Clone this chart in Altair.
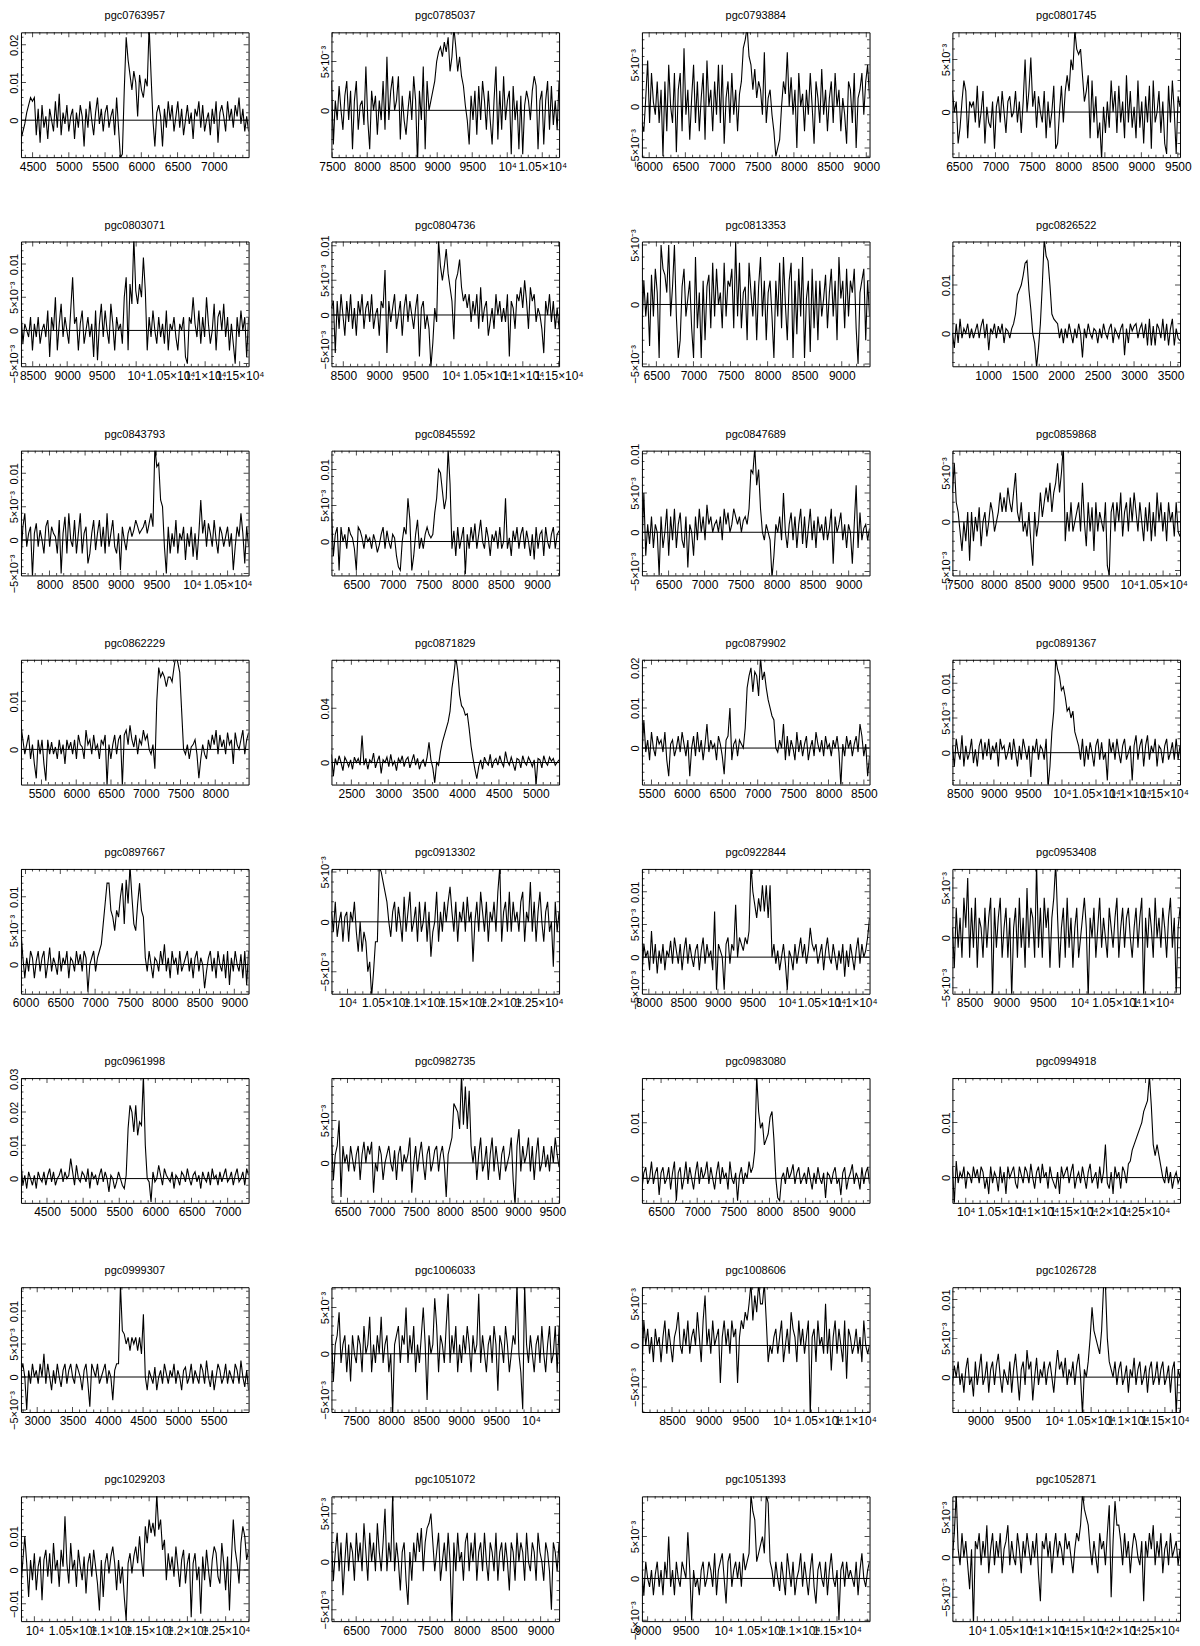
import numpy as np
import pandas as pd
import altair as alt

NAMES = ["pgc0763957", "pgc0785037", "pgc0793884", "pgc0801745",
         "pgc0803071", "pgc0804736", "pgc0813353", "pgc0826522",
         "pgc0843793", "pgc0845592", "pgc0847689", "pgc0859868",
         "pgc0862229", "pgc0871829", "pgc0879902", "pgc0891367",
         "pgc0897667", "pgc0913302", "pgc0922844", "pgc0953408",
         "pgc0961998", "pgc0982735", "pgc0983080", "pgc0994918",
         "pgc0999307", "pgc1006033", "pgc1008606", "pgc1026728",
         "pgc1029203", "pgc1051072", "pgc1051393", "pgc1052871"]

# velocity range of each panel (km/s)
V_LO = [4340, 7490, 5900, 6410, 8330, 8335, 6305, 510,
        7600, 6155, 6130, 7390, 5205, 2230, 5365, 8390,
        5935, 9790, 7900, 8265, 4140, 6265, 6235, 9815,
        2770, 7150, 8090, 8620, 9825, 6165, 8925, 9650]
V_HI = [7480, 10740, 9045, 9530, 11630, 11505, 9375, 3630,
        10795, 9305, 9290, 10750, 8480, 5315, 8580, 11735,
        9205, 12765, 11195, 11370, 7290, 9600, 9385, 12980,
        5995, 10400, 11195, 11705, 12800, 9250, 11930, 12850]

# flux range of each panel (mJy)
F_LO = [-9.8, -4.8, -6.1, -4.3, -5.4, -7.4, -5.2, -6.8,
        -5.3, -4.7, -5.5, -5.5, -7.3, -16.3, -9.1, -4.6,
        -4.3, -7.2, -5.6, -5.6, -7.3, -4.7, -4.4, -4.6,
        -5.3, -6.3, -8.0, -4.5, -15.2, -6.2, -5.1, -8.0]
F_HI = [23.3, 8.0, 8.9, 7.6, 13.4, 10.6, 5.3, 19.0,
        13.4, 12.6, 10.4, 7.3, 18.6, 75.9, 22.0, 13.4,
        14.1, 5.3, 13.5, 6.9, 30.2, 10.0, 18.0, 18.1,
        13.6, 7.2, 7.0, 11.6, 21.9, 6.8, 9.8, 7.6]

# labelled flux ticks (Jy)
Y_LABELS = [[0, 0.01, 0.02], [0, 0.005], [-0.005, 0, 0.005], [0, 0.005],
            [-0.005, 0, 0.005, 0.01], [-0.005, 0, 0.005, 0.01], [-0.005, 0, 0.005], [0, 0.01],
            [-0.005, 0, 0.005, 0.01], [0, 0.005, 0.01], [-0.005, 0, 0.005, 0.01], [-0.005, 0, 0.005],
            [0, 0.01], [0, 0.04], [0, 0.01, 0.02], [0, 0.005, 0.01],
            [0, 0.005, 0.01], [-0.005, 0, 0.005], [-0.005, 0, 0.005, 0.01], [-0.005, 0, 0.005],
            [0, 0.01, 0.02, 0.03], [0, 0.005], [0, 0.01], [0, 0.01],
            [-0.005, 0, 0.005, 0.01], [-0.005, 0, 0.005], [-0.005, 0, 0.005], [0, 0.005, 0.01],
            [-0.01, 0, 0.01], [-0.005, 0, 0.005], [-0.005, 0, 0.005], [-0.005, 0, 0.005]]

# spectra (mJy), channels evenly spread over each panel's velocity range
F01 = [-5, -3, -1, 2, 4, 6, 5, 6, -4, 3,
       -6, 4, -2, 1, -5, 3, 0, -3, 5, -2,
       7, -4, 2, -1, 4, -3, 1, 3, -5, 2,
       -2, 4, 1, -7, 3, -2, 5, 0, -4, 2,
       6, -1, 3, -3, 2, 4, -2, 1, 3, -4,
       6, -2, -10, -9, 8, 22, 16, 12, 8, 13,
       10, 1, 12, 8, 6, 11, 9, 25, 12, 0,
       -7, 2, 4, 1, -7, 3, -2, 5, 0, 4,
       -3, 1, 5, -2, 3, -4, 0, 4, -1, 2,
       -5, 3, 1, 5, -2, 4, -3, 0, 2, -4,
       3, -1, 5, -6, 2, 4, 1, -3, 5, 0,
       3, -2, 4, 1, 6, -1, 3, -3, 1, -3]
F02 = [3, -3.5, 1, -1, 2.5, 0, -2, 1.5, 3, -1,
       2, -4, 1, 3, -2, 0.5, 1, -1.5, 4.5, -1,
       -4, 2, 0, 1.5, -2.5, 1, -1, 3, -2, 5.5,
       -1, 2, 3.5, 0, 1, 3.5, -3, 1.5, -1, -2.5,
       0, 2, -1, 3.5, 1, -5.5, 2, -1, 4.5, -4,
       3, 0, 1, 2, 3, 5, 6, 6.5, 5.5, 7,
       6, 7.5, 4, 5.5, 8.5, 6.5, 4, 5.5, 3.5, 2.5,
       0.5, -1, -3.5, 1.5, -1, 2, -2.5, 2.5, -1, 3,
       1, -2, 2, -1, -3.5, 1, 4.5, -3, 2, -2,
       3.5, -1, 1, 2, -4.5, 2.5, -1, 1, -4, 1.5,
       -4.5, 0.5, 2, 1, -1, 2, 3.5, 2.5, -4, 1,
       2, -3.5, 1, 3, -2, 2.5, -1.5, 1, -2, 3]
F03 = [-2, -3, 1, 5.5, -2, 4, 0.5, -1, 3, -2,
       2, -6, 3, -3, 5, 0, -2, 4, -5.5, 2,
       4, -3, 7, -1, 2, -4, 1, 5, -2, 3,
       -3, 1, 4, -4, 5.5, 0, 2, -3, 3, -1,
       5, -2, 5, -4.5, 1, 3, -2, 4, -1, 2,
       -3, 1.5, 3, 7, 8, 9.5, 6, 5, 2, 4.5,
       1, 3, 2, -1, 6.5, -2, 1, 2, -1, -3,
       -6, -5, -4, 0, 3, 1.5, 6.5, 0, 3.5, -1,
       2, -5, 4, 0, 1.5, -3, 2, -1, 4, 0,
       -4.5, 3, 1, -2, 4.5, -1, 2, -3, 1, 3,
       -2, 4, 0, 2, -3, 1, -1, -4.5, 3, 2,
       -2, 4, -5, 1, 2, 4, -1, 3, 5, 1]
F04 = [2, 0, 1, -3, -1.5, 1, 3, 2, -2.5, 1,
       0.5, 1, -1, 2.5, -1.5, 0, 2, -3, 0.5, -1,
       -1.5, 1, -3.5, 0.5, 1.5, -1, 2, 0, -2, 1,
       1.5, -0.5, 0, 2, -1, 1, -2, 1, 5, 0,
       2, 5.2, 0.5, 2, -1.5, 1.5, 0, -1, 2, -2.5,
       1, -1.5, 0, 2.5, -3.5, -3, 0, 2.5, -1, 2,
       3.5, 2, 5, 4, 7.8, 6, 5.5, 6, 3.5, 1,
       2, 3.5, -2.5, 3, -1, 1.5, -2.5, -1, -4.5, 0.5,
       -2, 1, -1.5, 3, 0, 2, -2, 2.5, -1, 1,
       -2.5, 3.5, -1, 2, -1.5, 0.5, -2.5, 3, -1.5, 1,
       -3, 1.5, -1, 2.5, -3.5, 3, -1, 0, 2, -2,
       1, -3, -4, 2.5, -1, 3, 0, -4, 1.5, 0.5]
F05 = [3, -2, 1, 0, -1, 2, -3, 1, -1, 2,
       -2, 0, 1, -1, 3, -4, 2, 0, 5, -3,
       1, 4, -1, 2, 0, -2, 3, 8, 1, 2,
       -3, 1, 3, -2, 0, 2, -1, 1, -4, 3,
       -4.5, 1, 4, -1, 3, 0, -2, 4, 1, -3,
       2, 0, 1, -2, 5, 8, -3, 7, 4, 14,
       6, 4, 7, 5, 11, 6, -3, 2, -1, 3,
       0, -2, 2, -1, 1, -2, 3, -3, 1, 0,
       2, -1, -3, 1, 0, 2, -4, -5, 2, 1,
       5, 1, -1, 3, -2, 2, -1, 5, 1, -2,
       0, 4, -3, 2, 3, 0, 4, -1, 2, -3,
       1, -2, -5, 2, -1, 3, 0, 2, -4, 2]
F06 = [1, 2, -5.5, 2, -2, 3, 0, -3, 2, -1,
       3, -2, 1, -3, 2, 0, 3, -2, 1, 2,
       -1, 3, -2, 0, 1, -3, 2, 1, 6.5, -5.5,
       2, -1, 1, 3, -2, 0, 2, -3, 1, 3,
       -1, 2, 0, -2, 1, 3, -6, 1, 2, -2,
       0, -2, -7.5, -4, 1, -1, 10.8, 7, 5, 7,
       9.5, 6, 4, 2, -3.5, 5, 6, 8, 4, 2,
       3, 1, 3, -1, 2, 0, 3, -2, 4, -1,
       1, 2, -3, -1, 1, -2, 3, 0, 2, -1,
       1, -1, 3, -6, 2, 1, -2, 3, 2, 4,
       1, 5, 2, -2, 4, 2, 3, -1, 1, 0,
       -2, -5.5, 2, 0, 3, -1, 2, -2, 1, -2]
F07 = [-2, 2, -1, 1, -3.5, 2.5, -1, 3, 1, -4.5,
       5, 3, 2.5, 1, 5, -1, 1.5, 5, -1, -4.5,
       -3, 1.5, 3, -1, 0.5, 2, -2, -4.5, 4, -2,
       1, -4.5, 2, -3, 1.5, 2.5, -2, 3.5, -1, 3,
       0, 1, -2, 3.5, -1, 2, 1.5, 3, -2, 5.3,
       -1, 3.5, -2, 1, 1.5, -3, 3.5, 1, -1, 2,
       -3, 1.5, 4, -1, 2, -3, 1, 2, -1, -4.5,
       2, -1, 3.5, -2, 4, 0, -3, 2, 3.5, -4.5,
       2, -2.5, 3, -1, 4, -4.5, 0.5, 2, -4, 3,
       -2, 2, -3, 2, -1, 0.5, 2.5, -2, 1, 3,
       -1, 2, -3, 4, 0.5, 2, -2, 3, -1, 2,
       1, 3, -2, -5, 1, 2, 3, -3, 2, -1]
F08 = [0, -3, 2, -2, 3, -1, 1, 0, 2, -1,
       1, -1, 0.5, 2, -1, 1.5, 3, -1, 2, -3.5,
       1, 0, 2, -1, 1.5, 0, 2, -2, 1, 0.5,
       -1, 1, 2, 4, 8, 9, 10, 12, 14.5, 15,
       9, 5, 0, -2, -7, -3, 2, 10, 19.5, 16,
       15, 10, 4, 3, 2.5, 2, -1, 1, -2, 1,
       -1, 2, 0, -2, 1, -1, 2, 0, -5, 1,
       -1, 2, 0, -1, 1, 0.5, -2, 1, -1, 2,
       0, -1, 1, 2, -2, 1, 0, -1, 1, 2,
       -4.5, 1, -2, 2, 0.5, 1.5, 2, -1, 1, 2,
       -1, 2, -2.5, 3, -2.5, 1.5, -2.5, 2, 1, -1,
       3, -1.5, 2, -2.5, 1, 3, -2.5, 1, -1, -1.5]
F09 = [-3, 2, 4, -1, 1, 2, -5.5, 1, 2.5, -1,
       1.5, 0, -2, 2, 3, -1, 2, 1, 0.5, -2,
       3, -5, 1, 3.5, -2, 4, 0, -1, 3, -2,
       1, 4, -2, 1, 2, -3.5, -2, 1, 3, -1.5,
       1, 3, -1, 2, -2, 4, -1, 1, 3, -1,
       -2, 1, -4.5, 2, 0, -1.5, 1, 2, 0.5, 1.5,
       3, 2, 1, 1.5, 2, 3, 1, 2.5, 4, 2,
       14, 11, 11.5, 6, 5, -1, -5, 2, -2, 1,
       -1, 3, -2, 1, 0, 2, -3, 1, -1, 2,
       -2.5, 1, -3, 1, 6, 1, 3, -1, 2.5, 1,
       -1, 3, 0, -2, 2, 1, -1, 0.5, 2, -1,
       1, -4.5, -1, 2, 0.5, 4, 1, -3.5, 2, -1]
F10 = [4, -2, 1, 2, -4, 2, 0, 1, -1, 2,
       1, 0.5, -1, -4, 2, 1.5, 0.5, -1, 1, 0,
       0.5, -1, 1, 0, -1.5, -0.5, 1, 2, -1, 1.5,
       0, -1, 1, 0.5, -2, -3.5, -4, 0, 2, 1,
       6, 3, -4, -2, 1, 3, -1, 0.5, -1, 1,
       2, 1, 0.5, 1, 4, 6, 10, 9.5, 7, 4.5,
       6, 12.8, 8, -1, 1.5, -2, 2, -1, 0.5, 2,
       -4.5, 1, -1, 2, 0, 2.5, -1, 1, 3, 0,
       -1, 2, 0.5, -2, 1, 0, 1.5, -1, 2, -1,
       0, 6, -1, 0.5, -2, 1.5, 0, 2, -1, 1,
       2, -1, 1.5, 0, -2, 1, -2.5, 2, -1, 1,
       1.5, -2, 2, 0, -1, 1, 2, -1, 1, 1.5]
F11 = [-2, 5, -3, 1, -1.5, 2, -2, 1, 0, -5.5,
       2, -2, 0, 3, -3, 2, -1, 3, -2, 1,
       2.5, -1, -2, 2, -4.5, 1, 0, -3, 2, -1,
       3, 0, 2, -1, 3.5, 1, 2, 0, 1, 1.5,
       0, 2, -1, 3, 1, 2.5, 0, 1, 3, 2,
       1, 2, 0, 1.5, 2, 1, 3, 8, 7.5, 10.8,
       6, 8, 3, 0, -1, 1, 0, -1, -5.8, -3,
       1, 0, 2, -1, 5, 0, -2, 1, 2.5, -1,
       2, -2, 1, 3, -1.5, 2, -2, 0.5, 3, -1,
       1.5, -2, 2, 0, 1, -1, 2, -1, 0.5, 3,
       -4, 2, 0, 1, 2.5, -1, 1, -2, 1, 0,
       -4, 1, 6, -2, 2.5, -1, 0.5, 1, -1, 0.5]
F12 = [3, 6, 2, 1, -1, -3, 0, -2, 1, -4,
       1, -2, 0.5, -1, 1.5, -2.5, 0, 1, -1.5, 0,
       2, 1, -1, 0, 1, 3, 1, 2.5, 1, 3.5,
       2, 1, 3, 5, 1, 0, 2, -1, 0, -1.5,
       1, -2, -4.5, 1, -1.5, 0, 3, 0.5, 2, 3.5,
       2, 4, 1, 3, 4, 6, 3, 5, 7.8, -2,
       1, -1, 2, -1, 0, 1, 2, -1, 4, 0,
       -2.5, 2, -1, 1.5, -3, 2, -1, 1, 0, -1,
       2, -4.5, -5.5, 1, 2, -1, 2, 0, 3, -1.5,
       1, 2, -1, 2.5, 0, 3, 1, -1, 2, 0,
       -2, 1.5, -1, 2, -2, 1, -1.5, 3, 0, 2,
       -1, 1, -2, 2, 0, 1, -1.5, 2, -1, -1.5]
F13 = [5, 2, -1, 1, 3, -2, 1, -3, -6, 2,
       -1, 2, -3, -6.5, 2, -1, 1.5, -1, 0.5, -2,
       2, -1, 1, -3, 2, 0, 1.5, -1, 2, -2,
       3, 1, 0.5, -2, 4, 1, 2, -1, 3, 0,
       1, -2, 2, 1, 3, -7.5, 1, -2, 1, 3,
       -1, 2, 3, -7.5, 3, 4, 1, 5, 2, 0.5,
       3, -1, 2, 1, 4, 2, 3, 0, -1, 1,
       -4, 10, 17, 15, 16, 15, 13, 15, 15, 14,
       17, 19.5, 18, 16, 8, 0, -1, 1, -2, 0.5,
       1, 2, -1, -6, -2, 1, -1, -2, 2, 0,
       3, 1, 4, -1, 3, 0.5, 2, -1, 3.5, 1,
       2, -3, 3.5, 1, 0, 2, 4, -1, 2, 3.5]
F14 = [6, -10, 3, -2, 5, 0, -6, 4, 1, -3,
       2, -5, 4, 0, 3, -2, 20, -2, 3, -5,
       2, 0, 7, -4, 1, 5, -8, 2, 0, 4,
       -3, 6, -2, 1, -6, 3, 0, 5, -3, 2,
       4, -4, 1, 6, -2, 3, -5, 0, 2, -3,
       4, 15, 2, -4, -15, 0, -2, 8, 15, 20,
       25, 30, 38, 55, 65, 78, 68, 50, 42, 40,
       35, 36, 25, 12, 3, -5, -12, -3, 2, -5,
       4, 0, -2, 6, -4, 1, 3, -2, 5, 0,
       -3, 8, 1, -2, 4, -1, -6, 3, 2, -4,
       5, 0, -2, 4, 1, -3, 2, -16, 3, 2,
       -4, 5, 0, -2, 4, 1, 3, -2, 0, 2]
F15 = [-2, 7, -1, 2, -3, 4, 0, -2, 3, 1,
       2, -1, 4, -3, -7, 1, 2, -2, 0, 3,
       -1, 4, 1, -2, 2, -7, 0, 3, -2, 4,
       -1, 2, -3, 1, 6, -1, 2, 0, 1, -3,
       3, 1, -2, -6.5, 2, 3, 10, -3, 1, 2,
       -2, 2, 1, 0, 5, 15, 18, 20, 14, 19,
       18, 13, 22.5, 17, 19, 15, 12, 10, 8, 7,
       0, -1, 2, 0, 6, -3, 3, -2, 2, 0,
       -3, 4, -1, 2, -2, 1, 3, -3, 0, 2,
       -2, 4, 1, -1, 2, -2, 3, 0, 1, -2,
       2, 0, 3, -1, -9.5, 1, -2, 3, 0, 2,
       -2, 1, 3, -1, 6, 3, -2, 1, -7, -2]
F16 = [1, -2, 2, 0, -1, 2.5, -2, 1, -1, 0,
       2, -1.5, 0.5, -2, 1, 2, -1, 1.5, -0.5, 2,
       -1, 1, 0, 1.5, -2, 2, 0.5, 1, -1, 0,
       1.5, -1, 2, 0, -2, 1, -1, 2, 0.5, -1,
       1, -3.5, 1, 0, 2, -1, 1, 0.5, -1, 2,
       -5, -2, 3, 6, 13.6, 12, 11, 9, 9.5, 8,
       6, 6.5, 5, 6, 3, 2, 1, -1, 2, -2,
       1, -1, 1.5, 0, -2, 1, 2, -1, 1.5, -1,
       0, -4, 2, 0, 1.5, -1, 2, 0, -1.5, 1,
       2, -1, 0, 1, -4, 1, 2.5, -1, 1, 2,
       -2, 1, 2.5, -1, 1, 0, 2, -2, 1, 0.5,
       -1.5, 1, 2, -1, 0, 1.5, -1, 2, -1, 1]
F17 = [5, 1, -2, 1, -1, 2, 1, -2, 0.5, 2,
       -1, 1, 2, -2, 0, 2.5, -1, 1, 0, -1.5,
       2, -1, 1, 0, 2, -2, 1, 0.5, -1, 2,
       0, 1.5, -1, 2, 1, -4, 0, 1, 2, -1,
       1, 2, 3, 6, 9, 12, 12, 8, 7, 5,
       8, 7, 10, 12, 6, 12.5, 9, 14.5, 10, 6,
       5, 9, 12, 8, 7, 1, -1, 2, 0, -2,
       1, 0.5, -1, 2, 0, 3, -1, 1, -2, 2,
       0, 1, -1.5, 2, -1, 0, 1, 2, -1, 1,
       -2, 1, 2, -1, 1, 0, -3.5, -1, 1, 2,
       -1, 1, -2, 2, 0, -1, 1.5, -2, 2, -3,
       1, -1, 2, 0, -1, 1.5, -2, 2, -3, 2]
F18 = [1, -1, 2, -1.5, 0, 1, -2, 0.5, 1, -2,
       1, 0, 2, -1, -3, 0, -3, -1, -2, -5,
       -4, -7.5, -5, -2, -2, 5.5, 5, 4, 3, 2,
       0, -1.5, 1, 2, -1, 1.5, 0, -2, 2.5, -1,
       1, 3, -1, 0, 1.5, -2, 2, -1, 0, 2,
       -2, 1, -3.5, -1, 0, 3, -2, 1, -1, 2,
       0, 2, 3.5, 1, -1, 2, -2, 1, 0, 2,
       -1, 2.5, 0, 1, -4, 0, 2, -1, 3, 1,
       -1, 2, -2, 1, 0, 2, -1, 3, 5.5, -2,
       1, 2, -1, 3, -1, 2, 0, 1, -1, 2,
       3, -2, 1, 0, 4, -1, 2, -2, 1, 3,
       0, -2, 1, 2, -1, 0, -4.5, 2, -1, 1]
F19 = [-3, 2, 0, 1, -2, 4, -1, 2, -2.5, 1,
       -1, 2, -2, 1, 0, 2.5, -1, 3, 1, -1,
       2, -2, 1, 3, -1, 2, 0, -1.5, 1, 2,
       -2, 1, 3, -1, 2, 0, 1, -2, 7, -5,
       2, 1, 0, -5, 2, 3, -1, 2, 1, 8,
       0, 3, 2, 1, 3, 2, 4, 14, 10, 8,
       6, 9, 7, 11, 7, 11, 6, 11, 0, 2,
       -1, 1, -2, 0, 2, -1, -5, 1, 0, -2,
       2, -1, 1, 3, 0, 2, -1, 1, 4.5, 2,
       1, 2, -1, 0.5, 2, -2, 1, 3, 0, -1,
       2, 0, -2, 1, -1, 2, -3, 1, -1.5, 2,
       0, -2, 1, 3, -1, 2, 0, 1, 3, 6]
F20 = [1, -3, 3, -1, 2, -2, 4, 1, 6, -2,
       3, -1, 4, -3, 2, 1, -2, 3, -1, 2,
       4, -6, 3, -1, 2, 4, -2, 1, 3, -2,
       2, -6, 1, 3, -2, 4, -1, 2, -3, 5,
       -1, 3, 2, -2, 7.5, -1, 3, -2, 4, 1,
       3, -3, 2, 4, 7.5, 2, -3, 1, 3, -2,
       4, -1, 2, -3, 1, 3, -2, 0, 2, 4,
       1, -6, 2, 0, 3, -2, 1, 4, -1, 2,
       0, -2, 3, 1, -1, 2, 4, -2, 1, 3,
       -1, 2, 3, 0, -2, 1, 3, -1, 2, 4,
       -6, 2, -1, 3, 1, -2, 4, 0, 2, -1,
       3, 1, -2, 2, 4, -1, 2, -5.5, 1, 3]
F21 = [5, -2, 1, -3, 2, 0, -2, 1, -3, 2,
       0, -1, 2, -2, 1, 3, -1, 2, -2, 0,
       1, 3, -1, 2, 0, 1, 6, 2, -2, 4,
       0, -1, 2, 1, -1, 3, -3, 2, 0, 1,
       -2, 1, 3, -1, 2, 0, -4, 1, 0, -3,
       -1, 2, 0, -2, -3, 1, 15, 22, 20, 14,
       22, 13, 17, 16, 31, 10, 0, -1, -7, 2,
       -1, 0, 4, 1, -2, 3, 1, 0, -1, 2,
       -3, 1, 0, -2, 2, 1, -1, 3, 0, -2,
       1, 2, -1, 1, -3, 2, 0, -1, 2, -2,
       3, 0, 1, -2, 2, -1, 1, 3, -1, 0,
       2, -2, 1, 3, -1, 0, 2, -2, 3, 1]
F22 = [3, -2, 1, 2, 5, -4, 2, 0, 1, -1,
       2, 0.5, -1, 1, 2, -2, 1, 2.5, 0, 2,
       1, 2.5, -3.5, 0, -1, 2, 1, -2, 0, 1,
       2, 0, -1, 1.5, -2, 1, 2, -1, 1, 0,
       1, 3, -3.5, 0, 2, -1, 1, 2.5, 0, -2,
       1, 2, -1, 0, 1.5, 2, -1, 1, 2, 0,
       -4, 1, 2, 3, 7, 6.5, 6, 4, 10.5, 4.5,
       9, 4, 8.5, 2, 0, 2, -2, 1, 3, -1,
       0, 2, -2, 1, 3, -1, 2, 0, -2, 1,
       2, -1, 0, 1, 3, -2, -5, 2, 4, -1,
       2, 0, 1, 3, -1, 2, -2, 1, 3, -1,
       0, 2, -0.5, 1, -1, 2, 0, 3, 1, -0.5]
F23 = [-2, 1, 2, -1, 0, 3, -1, 1, 2, -3,
       1, 2, -1, 0, 2, -2, 1, 3, -4, 1,
       2, -2, 0, 3, -1, 2, 0, -2, 1, 3,
       -1, 2, 0, 1, 3, -1, 2, 0, -2, 1,
       3, -1, 2, 0, 1, -2, 3, 0, -1, 1,
       -4, 0.5, 2, -1, 1, 0, 3, 1, 2, 5,
       18.5, 12, 9, 10, 6, 7, 8, 11, 12, 7,
       0, -3.5, -4, 0, 1, -1, 2, 0, 1, 2.5,
       -1, 1, 2, -1, 0, 1, -1, 2, 0, -2,
       1, -1, 2, 0, -1, 1, -3.5, 1, 0.5, -1,
       1, 2, -1, 0, -3, 1, 2, -2, 0, 1,
       2.5, -1, 1, 0, -2, 2, -1, 1, 2, -1]
F24 = [2, -4.8, 3, -1, 1, 0, 2, -2, 1, 0.5,
       -1, 2, 0, 1.5, -1, 2, 1, -2, 0, -3,
       2, -1, 1, 0, -2.5, 2, -1, 1, -3, 2,
       0, 1, 2, -1, -2, 2, 0.5, -1, 2, 1,
       -1, 2.5, 0, -2, 1, 2, -1, 2.5, 0, 1,
       -2, 2, 0, -1, -2, 1, -3, 2, 0, 1,
       2, -1, 1, 2.5, -2, 0, 1, -1, 2, 0,
       -2, 1, 2.5, -1, 0, 1, -2, 2, -1, 1,
       6, -1, -2, 1, -3, 2, 0, 1, -2, 2,
       1, -1, 2.5, 3, 5, 6, 7, 8, 9, 10,
       12, 13, 14, 18.5, 13, 6, 4, 6, 4, 2,
       0, -1, 2, -1, 1, -2, 0, 1, -1, 0]
F25 = [1, 2, 0, -5, 1, -1, 2, 0, 1, -1,
       2, 0, 3.5, -1, 2, 0, -2, 1, -1, 2,
       0, -1.5, 1, 2, -1, 1, 2, 0, -1, 2,
       1, 0, -2, 1, 2, -1, -4.5, 2, 1, 0,
       2, -1, 0, 1, 2, -1, 1, 0, -3.5, 1,
       2, 2, 14, 7, 6.5, 5, 6, 4, 6, 5,
       6, 4, 6, 3.5, 9.5, 0, -2, 1, 0, -1,
       1.5, -2, 0, 1, -1, 2, 0.5, -1, 1, 0,
       2, -1, 1, 0, -2, 1, 1.5, -1, 0, 2,
       -1, 1, 0, -1, 2, 1, -1, 2.5, 0, -1.5,
       1, -2, 0, 2, 1, -1, 0, 2, -1, 1,
       0, -1, 2, 1, -1, 2.5, 0, -1.5, 1, -2]
F26 = [2, -3, 1, 2, 4.5, -1, 1, 2, -2, 1,
       -3, 2, 0, -1, 2, 1, -2, 3, 0, 1,
       4, -2, 1, -1, 2, 0, 4, -1, 1, 2,
       -2, 0, -6.5, 1, 2, 3, -1, 2, 1, 5,
       -1, 2, 0, 3, -2, 1, -1, 2, 5, 1,
       -5, 2, 0, 1, 6, 3, -2, 2, 1, -1,
       3, 6.5, -1, 2, 0, 3, -2, 1, -1, 2,
       0, 3, 1, -2, 2, 0, 1, 6.5, -1, 2,
       0, -2, 1, 2, -1, 3, 1, -4, 2, 1,
       -1, 3, 1, -2, 0, 2, 1, 7.5, 0, -2,
       -6, 7.5, 1, -1, 2, 0, -2, 1, 2, -1,
       3, 0, -2, 1, 3, -1, 0, 3, -2, 3]
F27 = [-3, 3, 0, 2, -1, 1, -2, 2, 0, 1,
       -2, 1, 3, -1, 2, 0, -2, 1, 2, 4,
       0, -1, 2, 0, 3, -1, 1, 2, 0, 4,
       1, -2, 3, 6, 0, 2, -1, 3, 0, 1,
       2, -4.5, 1, 3, 0, 2, -1, 3, 1, 2,
       -4.5, 1, 3, 2, 4, 3, 5, 7.5, 3, 6,
       4, 7.5, 5, 5, 7.5, 3, -2, 0, -1, 1,
       2, -1, 1, 3, -2, 0, 2, -1, 4, 2,
       1, -2, 3, 0, 2, -1, 1, 3, -8.5, 1,
       2, -2, 3, 0, 1, -1, 5, -1, 2, -3,
       1, 3, -1, 2, 0, -2, 3, -4, 2, 1,
       -1, 0, 2, -1, 1, -2, 3, 0, -1, 0]
F28 = [-1, 1.5, 0, 2, -1, 0.5, -2, 1, 2.5, -1,
       0, -2.5, 2, -1, 1, 3, -1, 0, 2, -2,
       1, 2, -1, 1.5, 3, 0, -2, 1, 0, -1,
       2, -2, 1, 3, 0, -3, 1, 2, -1, 3.5,
       1, 2, -3, 0, 2.5, -1, 1, 0, 2, -1,
       1, 2, 0, -2, 1, 3.5, 1, 2, 0, 2.5,
       -1, 1, 0, 2, -1, 1.5, 3, 0, -4.8, 1,
       0, 2, 5, 9, 6, 5, 4, 3, 6, 11.6,
       12, 5, 2, 1, 0, 2, -1, 1, 2, -1,
       0, 1.5, -2, 1, 0, 2.5, -1, 1, 2, -1,
       0, 1.5, -2, 1, 2, -1, 0, 2, -1, 1,
       2, -1, 0, 1.5, -2, 1, 2, -4.8, 1, 0]
F29 = [-5, 3, 10, 2, -8, 3, -3, 5, -6, 1,
       4, -9, 3, 6, -2, 5, -4, 8, 0, 3,
       -5, 6, 1, 16, 2, -4, 8, 0, 3, -5,
       6, 1, -3, 4, -7, 2, 5, -2, 6, 1,
       -4, -12, 3, -8, 2, 5, -1, 4, 7, 2,
       -6, 3, -4, 1, -8, -15, 2, 5, -1, 4,
       7, 2, 10, 3, -2, 13, 8, 15, 11, 14,
       10, 22.5, 12, 15, 6, 9, -3, 5, 0, 4,
       -2, 7, 1, -5, 3, 6, -4, 2, 5, -14,
       2, 5, -3, 1, -13, 4, -3, 6, 0, -5,
       3, 7, 5, -2, -4, 8, 2, -6, 4, -12,
       3, 15, 6, 2, -4, 8, 13, 10, 3, 6]
F30 = [2, -2, 1, 3, -1, 2, -3.5, 0, 3, -1,
       2, 1, -2, 3, 0, 2, -1, 4, 1, -2,
       3, 0, 2, -1, 4, 1, -1, 2, 5.5, -1,
       2, 0, 7, -1, 2, 0, -3, 1, 2, -2,
       -4.5, 1, -2, 2, 0, 3, 1, 3.5, -1, 2,
       3.5, 4, 5, 2, -1, 1, 3, -2, 0, 2,
       -1, 3, 0, -6.5, 2, -1, 3, 0, 1, -2,
       2, 3, -1, 2, 0, 3, -2, 1, 2, -1,
       3, 0, -2, 2, 1, -1, 3, -2, 1, 2,
       -1, 2, 0, -3, 2, 1, -2, 3, 0, 2,
       1, -2, 3, 0, -1, 2, 1, -2, 3, 1,
       0, -2, 2, 1, -1, -5, 2, 1, -1, 2]
F31 = [1, -2, 2, 0, -1, 1, -2, 0.5, 2, -1,
       1, -2, 2, 0, 5, -1, 1, -2, 2, 0,
       -1, 2, 1, 0, 5.5, 1, -5, 1, -1, 0,
       -2, 1, 2, -1, 0, 2, 1, -1, 3, -2,
       1, 2, 3, 0, -3, 2, 3, -1, 1, 2,
       0, 2, -1, 3, 1, 2, 3, 10, 8, 7,
       2, 3, 4, 5, 3, 10, 9, 2, 1, -1,
       2, 0, -1.5, 2, 0, -2, 3, 1, -1, 2,
       -2, 0, 1, 3, -1, 2, 0, -2, 1, 3,
       -1, -3, 1, 2, 0, -1, 2, -2, 1, 3,
       0, -1, 1, -5, 1, 2, -1, 2, 0, 1,
       0, -1, 2, -2, 1, 3, 0, -1, 1, 2]
F32 = [0, 3, 8, 1, -1, 3, 0, 2, -1, -4,
       1, -8.5, 2, 1, 3, -1, 2, 0, 4, -2,
       1, 3, -1, 2, 0, 3, -2, 1, 2, 4,
       -1, 2, 0, -1, 3, 1, -2, 2, 0, 3,
       1, -1, 2, 0, 3, -2, -5.5, 2, 1, 3,
       0, 2, -2, 1, 3, 0, 2, 1, -1, 3,
       1, 2, 0, -2, 1, 3, 2, 4, 8, 6,
       5, 4, 1, -1, 2, 0, -2, 3, 1, 2,
       -1, 3, 6.5, -5, 2, 7, 4, 4, 2, -1,
       3, 0, 2, -2, 1, 3, 2, 0, -1, 2,
       -5.5, 2, 0, 3, 1, 4, -1, 2, 0, 3,
       -2, 1, 2, -1, 3, 0, 1, 2, -1, 1]

SPECTRA = [F01, F02, F03, F04, F05, F06, F07, F08, F09, F10, F11, F12, F13, F14, F15, F16,
           F17, F18, F19, F20, F21, F22, F23, F24, F25, F26, F27, F28, F29, F30, F31, F32]

W, H = 228, 125
MAJ, MIN = 10, 5
FONT = "Liberation Sans"

XEXPR = ("datum.value < 10000 ? format(datum.value, 'd') : "
         "(datum.value == 10000 ? '10\u2074' : format(datum.value / 10000, '~g') + '\u00d710\u2074')")
YEXPR = ("datum.value == 0 ? '0' : ((datum.value < 0 ? '\u2212' : '') + "
         "(abs(datum.value) < 0.0075 ? '5\u00d710\u207b\u00b3' : format(abs(datum.value), '.2f')))")


def panel(i):
    flux = SPECTRA[i]
    v0, v1 = V_LO[i], V_HI[i]
    y0, y1 = F_LO[i] * 1e-3, F_HI[i] * 1e-3
    df = pd.DataFrame({"v": np.linspace(v0, v1, len(flux)),
                       "f": np.array(flux, dtype=float) * 1e-3})
    xs = alt.Scale(domain=[v0, v1], nice=False, zero=False)
    ys = alt.Scale(domain=[y0, y1], nice=False, zero=False)

    xlab = [t for t in range(0, 20000, 500) if v0 <= t <= v1]
    xmin = [t for t in range(0, 20000, 100) if v0 <= t <= v1 and t % 500]
    ylab = Y_LABELS[i]
    step = ylab[1] - ylab[0]
    ystep = 0.01 if step > 0.03 else step / 5
    k0 = int(np.ceil(y0 / ystep - 1e-9))
    k1 = int(np.floor(y1 / ystep + 1e-9))
    ymin = [round(k * ystep, 6) for k in range(k0, k1 + 1)]
    ymin = [y for y in ymin if all(abs(y - l) > 1e-9 for l in ylab)]

    xt = pd.DataFrame({"t": xlab + xmin, "s": [MAJ] * len(xlab) + [MIN] * len(xmin)})
    yt = pd.DataFrame({"t": list(ylab) + ymin, "s": [MAJ] * len(ylab) + [MIN] * len(ymin)})

    xaxis = alt.Axis(values=xlab, labelExpr=XEXPR, title=None, ticks=False, tickSize=0,
                     domain=False, grid=False, labelFontSize=12, labelPadding=4,
                     labelOverlap=False, labelFlush=False, labelBound=False, labelFont=FONT,
                     labelColor="black")
    yaxis = alt.Axis(values=ylab, labelExpr=YEXPR, title=None, ticks=False, tickSize=0,
                     domain=False, grid=False, labelFontSize=11, labelAngle=270,
                     labelPadding=1, labelOverlap=False, labelFlush=False, labelBound=False,
                     labelFont=FONT, labelColor="black")

    line = alt.Chart(df).mark_line(color="black", strokeWidth=1.1, clip=True).encode(
        x=alt.X("v:Q", scale=xs, axis=xaxis),
        y=alt.Y("f:Q", scale=ys, axis=yaxis),
    )
    zero = alt.Chart(pd.DataFrame({"z": [0.0]})).mark_rule(color="black", strokeWidth=1).encode(
        y=alt.Y("z:Q", scale=ys, axis=yaxis)
    )
    size = alt.Size("s:Q", scale=None, legend=None)
    tb = alt.Chart(xt).mark_tick(orient="vertical", color="black", thickness=1, clip=True).encode(
        x=alt.X("t:Q", scale=xs, axis=xaxis), y=alt.value(H), size=size)
    tt = alt.Chart(xt).mark_tick(orient="vertical", color="black", thickness=1, clip=True).encode(
        x=alt.X("t:Q", scale=xs, axis=xaxis), y=alt.value(0), size=size)
    tl = alt.Chart(yt).mark_tick(orient="horizontal", color="black", thickness=1, clip=True).encode(
        y=alt.Y("t:Q", scale=ys, axis=yaxis), x=alt.value(0), size=size)
    tr = alt.Chart(yt).mark_tick(orient="horizontal", color="black", thickness=1, clip=True).encode(
        y=alt.Y("t:Q", scale=ys, axis=yaxis), x=alt.value(W), size=size)
    title = alt.Chart(pd.DataFrame({"name": [NAMES[i]]})).mark_text(
        font=FONT, fontSize=11, color="black", align="center", baseline="alphabetic"
    ).encode(text="name:N", x=alt.value(W / 2), y=alt.value(-13))

    return alt.layer(line, zero, tb, tt, tl, tr, title).properties(width=W, height=H)


panels = [panel(i) for i in range(32)]

chart = alt.concat(
    *panels, columns=4, spacing={"row": 84.5, "column": 83}, bounds="flush", padding=0
).configure_view(stroke="black", strokeWidth=1)

chart.save("out.html", embed_options={"renderer": "svg", "actions": False})
